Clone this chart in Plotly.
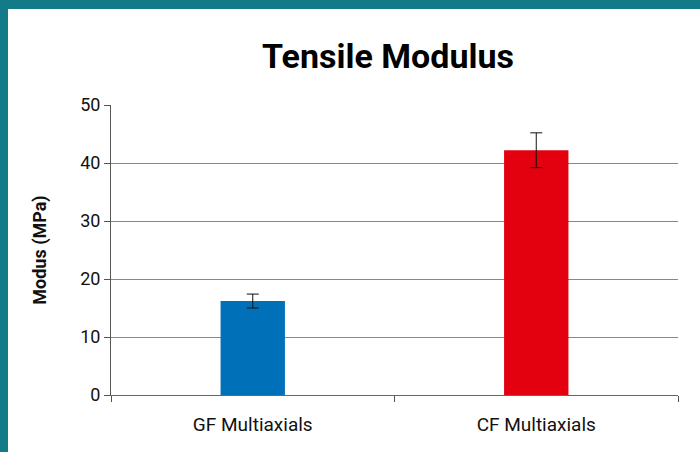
import plotly.graph_objects as go

categories = ["GF Multiaxials", "CF Multiaxials"]
modulus = [16.2, 42.2]
errors = [1.2, 3.0]
bar_colors = ["#0070B8", "#E3000F"]
y_ticks = [0, 10, 20, 30, 40, 50]

FONT = "Roboto, Liberation Sans Narrow, sans-serif"

fig = go.Figure()
fig.add_trace(go.Bar(
    x=categories, y=modulus,
    marker=dict(color=bar_colors, line=dict(width=0)),
    width=0.227,
    error_y=dict(type="data", array=errors, visible=True, color="#111111",
                 thickness=1, width=6),
    showlegend=False,
))

L, R, T, B = 111, 22, 105, 57
W, H = 700, 452
pw, ph = W - L - R, H - T - B

def px_x(p):
    return (p - L) / pw

def px_y(p):  # p from top
    return (H - B - p) / ph

fig.update_layout(
    width=W, height=H,
    margin=dict(l=L, r=R, t=T, b=B),
    paper_bgcolor="white", plot_bgcolor="white",
    title=dict(text="<b>Tensile Modulus</b>", x=388 / W, xanchor="center",
               y=1 - 56 / H, yanchor="middle",
               font=dict(family=FONT, size=34, color="black")),
    font=dict(family=FONT, color="#111111"),
    shapes=[
        dict(type="rect", xref="paper", yref="paper",
             x0=px_x(0), x1=px_x(W), y0=px_y(9), y1=px_y(0),
             fillcolor="#137A87", line=dict(width=0), layer="above"),
        dict(type="rect", xref="paper", yref="paper",
             x0=px_x(0), x1=px_x(8), y0=px_y(H), y1=px_y(0),
             fillcolor="#137A87", line=dict(width=0), layer="above"),
    ],
)
fig.update_xaxes(
    type="category", tickson="boundaries", ticks="outside", ticklen=6,
    tickcolor="#555555", showline=True, linecolor="#666666", linewidth=1,
    tickfont=dict(family=FONT, size=19, color="#111111"),
    ticklabelstandoff=12,
    showgrid=False,
)
fig.update_yaxes(
    range=[0, 50], tickvals=y_ticks, ticks="outside", ticklen=6,
    tickcolor="#555555", showline=True, linecolor="#555555", linewidth=1,
    showgrid=True, gridcolor="#888888", gridwidth=1,
    zeroline=False,
    tickfont=dict(family=FONT, size=18, color="#111111"),
    title=dict(text="<b>Modus (MPa)</b>", standoff=28,
               font=dict(family=FONT, size=18, color="#111111")),
)

fig.write_html("out.html", config={"displayModeBar": False},
               post_script="document.body.style.margin='0px';document.body.style.overflow='hidden';")
